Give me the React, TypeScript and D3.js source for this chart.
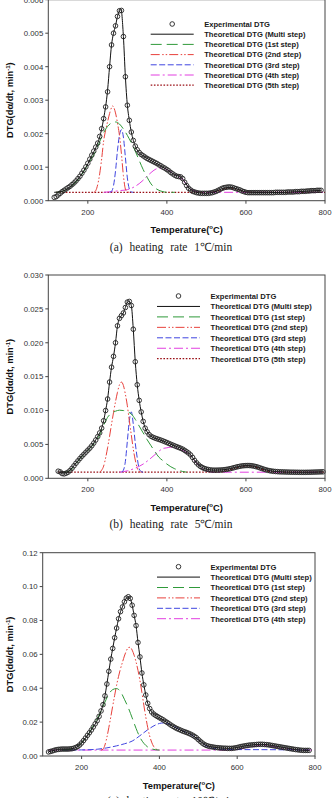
import * as d3 from 'd3';

type Pt = [number, number];

// ---- heating rate 1 °C/min ----
const expA: Pt[] = [
  [115,0.00010],[120,0.00012],[125,0.00017],[130,0.00022],[135,0.00027],[140,0.00031],[145,0.00035],[150,0.00039],
  [155,0.00043],[160,0.00048],[165,0.00053],[170,0.00059],[175,0.00066],[180,0.00073],[185,0.00082],[190,0.00091],
  [195,0.00101],[200,0.00112],[205,0.00124],[210,0.00136],[215,0.00148],[220,0.00160],[225,0.00172],[230,0.00192],
  [235,0.00215],[240,0.00245],[245,0.00280],[250,0.00325],[255,0.00400],[260,0.00465],[265,0.00500],[270,0.00522],
  [275,0.00550],[280,0.00567],[285,0.00568],[290,0.00490],[295,0.00370],[300,0.00285],[305,0.00240],[310,0.00205],
  [315,0.00180],[320,0.00163],[325,0.00152],[330,0.00144],[335,0.00138],[340,0.00134],[345,0.00130],[350,0.00126],
  [355,0.00123],[360,0.00120],[365,0.00117],[370,0.00114],[375,0.00111],[380,0.00107],[385,0.00104],[390,0.00100],
  [395,0.00097],[400,0.00093],[405,0.00089],[410,0.00084],[415,0.00080],[420,0.00076],[425,0.00073],[430,0.00072],
  [435,0.00071],[440,0.00066],[445,0.00055],[450,0.00045],[455,0.00037],[460,0.00032],[465,0.00028],[470,0.00026],
  [475,0.00024],[480,0.00023],[485,0.00022],[490,0.00022],[495,0.00022],[500,0.00022],[505,0.00022],[510,0.00023],
  [515,0.00024],[520,0.00026],[525,0.00028],[530,0.00031],[535,0.00034],[540,0.00037],[545,0.00039],[550,0.00040],
  [555,0.00041],[560,0.00041],[565,0.00040],[570,0.00038],[575,0.00036],[580,0.00034],[585,0.00032],[590,0.00029],
  [595,0.00027],[600,0.00025],[605,0.00024],[610,0.00024],[615,0.00024],[620,0.00024],[625,0.00024],[630,0.00024],
  [635,0.00024],[640,0.00024],[645,0.00024],[650,0.00024],[655,0.00024],[660,0.00024],[665,0.00024],[670,0.00024],
  [675,0.00025],[680,0.00025],[685,0.00025],[690,0.00025],[695,0.00025],[700,0.00025],[705,0.00026],[710,0.00026],
  [715,0.00026],[720,0.00026],[725,0.00027],[730,0.00027],[735,0.00027],[740,0.00028],[745,0.00028],[750,0.00028],
  [755,0.00029],[760,0.00029],[765,0.00030],[770,0.00030],[775,0.00030],[780,0.00031],[785,0.00031],[790,0.00031],
];
const multiA: Pt[] = [
  [115,0.00025],[130,0.00027],[140,0.00030],[150,0.00037],[160,0.00046],[170,0.00058],[180,0.00072],[190,0.00090],
  [200,0.00110],[210,0.00135],[220,0.00158],[230,0.00190],[240,0.00245],[250,0.00330],[255,0.00400],[260,0.00465],
  [265,0.00500],[270,0.00522],[275,0.00550],[280,0.00567],[284,0.00570],[290,0.00490],[295,0.00370],[300,0.00285],
  [305,0.00240],[310,0.00205],[320,0.00163],[330,0.00143],[340,0.00134],[360,0.00120],[380,0.00107],[400,0.00093],
  [420,0.00077],[435,0.00071],[445,0.00056],[460,0.00033],[480,0.00024],[500,0.00022],[520,0.00026],[540,0.00036],
  [560,0.00040],[580,0.00034],[600,0.00026],[650,0.00024],[700,0.00025],[750,0.00028],[790,0.00031],
];
const step1A: Pt[] = [
  [120,0.00025],[130,0.00026],[140,0.00030],[150,0.00036],[160,0.00045],[170,0.00056],[180,0.00070],[190,0.00088],
  [200,0.00108],[210,0.00127],[220,0.00148],[230,0.00176],[240,0.00203],[250,0.00222],[260,0.00232],[270,0.00235],
  [280,0.00229],[290,0.00214],[300,0.00195],[310,0.00173],[320,0.00148],[330,0.00120],[340,0.00093],[350,0.00070],
  [360,0.00050],[370,0.00038],[380,0.00031],[390,0.00027],[400,0.00025],[420,0.00025],
];
const step2A: Pt[] = [
  [215,0.00025],[220,0.00030],[225,0.00048],[230,0.00080],[235,0.00125],[240,0.00178],[245,0.00210],[250,0.00236],
  [255,0.00260],[260,0.00278],[263,0.00283],[265,0.00280],[270,0.00262],[275,0.00232],[280,0.00195],[285,0.00140],
  [290,0.00075],[295,0.00035],[300,0.00026],[305,0.00025],
];
const step3A: Pt[] = [
  [255,0.00025],[260,0.00028],[265,0.00045],[270,0.00088],[275,0.00150],[280,0.00195],[285,0.00212],[290,0.00190],
  [295,0.00130],[300,0.00068],[305,0.00035],[310,0.00026],[315,0.00025],
];
const step4A: Pt[] = [
  [240,0.00025],[260,0.00027],[280,0.00030],[300,0.00033],[310,0.00037],[320,0.00043],[330,0.00051],[340,0.00061],
  [350,0.00073],[360,0.00084],[370,0.00093],[380,0.00097],[390,0.00097],[400,0.00093],[410,0.00086],[420,0.00078],
  [430,0.00072],[440,0.00064],[450,0.00047],[460,0.00035],[470,0.00029],[480,0.00026],[500,0.00025],[800,0.00025],
];
const step5A: Pt[] = [
  [120,0.00025],[500,0.00025],[520,0.00027],[540,0.00033],[560,0.00038],[580,0.00033],[600,0.00026],[620,0.00025],
  [800,0.00025],
];

// ---- heating rate 5 °C/min ----
const expB: Pt[] = [
  [125,0.00105],[130,0.00095],[135,0.00070],[140,0.00065],[145,0.00075],[150,0.00090],[155,0.00115],[160,0.00148],
  [165,0.00185],[170,0.00222],[175,0.00258],[180,0.00292],[185,0.00325],[190,0.00355],[195,0.00385],[200,0.00415],
  [205,0.00445],[210,0.00480],[215,0.00520],[220,0.00565],[225,0.00615],[230,0.00670],[235,0.00740],[240,0.00850],
  [245,0.01000],[250,0.01170],[255,0.01420],[260,0.01640],[265,0.01800],[270,0.02000],[275,0.02250],[280,0.02360],
  [285,0.02400],[290,0.02440],[295,0.02520],[300,0.02600],[305,0.02610],[310,0.02550],[315,0.02200],[320,0.01720],
  [325,0.01380],[330,0.01150],[335,0.00980],[340,0.00840],[345,0.00740],[350,0.00685],[355,0.00645],[360,0.00620],
  [365,0.00605],[370,0.00593],[375,0.00583],[380,0.00573],[385,0.00563],[390,0.00552],[395,0.00540],[400,0.00528],
  [405,0.00515],[410,0.00502],[415,0.00490],[420,0.00478],[425,0.00466],[430,0.00455],[435,0.00443],[440,0.00430],
  [445,0.00412],[450,0.00392],[455,0.00372],[460,0.00345],[465,0.00308],[470,0.00265],[475,0.00228],[480,0.00198],
  [485,0.00175],[490,0.00158],[495,0.00145],[500,0.00136],[505,0.00129],[510,0.00124],[515,0.00121],[520,0.00120],
  [525,0.00120],[530,0.00121],[535,0.00122],[540,0.00124],[545,0.00127],[550,0.00131],[555,0.00136],[560,0.00142],
  [565,0.00149],[570,0.00157],[575,0.00165],[580,0.00172],[585,0.00178],[590,0.00183],[595,0.00186],[600,0.00188],
  [605,0.00189],[610,0.00188],[615,0.00185],[620,0.00180],[625,0.00173],[630,0.00165],[635,0.00155],[640,0.00145],
  [645,0.00135],[650,0.00126],[655,0.00118],[660,0.00112],[665,0.00107],[670,0.00103],[675,0.00100],[680,0.00098],
  [685,0.00096],[690,0.00095],[695,0.00094],[700,0.00093],[705,0.00092],[710,0.00091],[715,0.00090],[720,0.00090],
  [725,0.00089],[730,0.00089],[735,0.00088],[740,0.00088],[745,0.00088],[750,0.00088],[755,0.00089],[760,0.00089],
  [765,0.00090],[770,0.00091],[775,0.00092],[780,0.00093],[785,0.00094],[790,0.00095],[795,0.00096],
];
const multiB: Pt[] = [
  [125,0.00100],[135,0.00080],[145,0.00080],[155,0.00120],[165,0.00190],[175,0.00260],[185,0.00330],[195,0.00390],
  [205,0.00450],[215,0.00520],[225,0.00620],[235,0.00740],[240,0.00850],[245,0.01000],[250,0.01170],[255,0.01420],
  [260,0.01640],[265,0.01800],[270,0.02000],[275,0.02250],[280,0.02360],[285,0.02400],[290,0.02440],[295,0.02520],
  [300,0.02600],[305,0.02610],[310,0.02550],[315,0.02200],[320,0.01720],[325,0.01380],[330,0.01150],[335,0.00980],
  [340,0.00840],[350,0.00685],[360,0.00620],[380,0.00573],[400,0.00528],[420,0.00478],[440,0.00430],[460,0.00345],
  [470,0.00265],[480,0.00198],[490,0.00158],[500,0.00136],[520,0.00120],[540,0.00124],[560,0.00142],[580,0.00172],
  [600,0.00188],[620,0.00180],[640,0.00145],[660,0.00112],[680,0.00098],[720,0.00090],[760,0.00089],[795,0.00096],
];
const step1B: Pt[] = [
  [140,0.00090],[150,0.00100],[160,0.00140],[170,0.00210],[180,0.00290],[190,0.00350],[200,0.00410],[210,0.00470],
  [220,0.00550],[230,0.00640],[240,0.00780],[250,0.00900],[260,0.00960],[270,0.00990],[280,0.01005],[290,0.01000],
  [300,0.00980],[310,0.00950],[320,0.00870],[330,0.00770],[340,0.00670],[350,0.00570],[360,0.00480],[370,0.00390],
  [380,0.00310],[390,0.00260],[400,0.00210],[410,0.00170],[420,0.00140],[430,0.00120],[440,0.00100],[450,0.00090],
];
const step2B: Pt[] = [
  [230,0.00090],[235,0.00120],[240,0.00180],[245,0.00300],[250,0.00450],[255,0.00620],[260,0.00800],[265,0.00970],
  [270,0.01130],[275,0.01270],[280,0.01380],[285,0.01420],[290,0.01370],[295,0.01240],[300,0.01070],[305,0.00850],
  [310,0.00640],[315,0.00430],[320,0.00270],[325,0.00150],[330,0.00100],[335,0.00090],
];
const step3B: Pt[] = [
  [285,0.00090],[290,0.00120],[295,0.00250],[300,0.00550],[305,0.00850],[310,0.00980],[315,0.00800],[320,0.00520],
  [325,0.00300],[330,0.00140],[335,0.00100],[340,0.00090],
];
const step4B: Pt[] = [
  [280,0.00090],[300,0.00110],[320,0.00150],[340,0.00210],[360,0.00300],[370,0.00350],[380,0.00400],[390,0.00440],
  [400,0.00450],[410,0.00460],[420,0.00450],[430,0.00430],[440,0.00410],[450,0.00380],[460,0.00330],[470,0.00260],
  [480,0.00190],[490,0.00140],[500,0.00110],[520,0.00090],[800,0.00090],
];
const step5B: Pt[] = [
  [125,0.00090],[530,0.00090],[550,0.00110],[570,0.00145],[590,0.00175],[605,0.00185],[620,0.00170],[640,0.00135],
  [660,0.00100],[680,0.00090],[800,0.00090],
];

// ---- heating rate 10 °C/min ----
const expC: Pt[] = [
  [115,0.0024],[120,0.0027],[125,0.0030],[130,0.0034],[135,0.0037],[140,0.0039],[145,0.0040],[150,0.0041],
  [155,0.0041],[160,0.0041],[165,0.0041],[170,0.0042],[175,0.0043],[180,0.0046],[185,0.0050],[190,0.0056],
  [195,0.0065],[200,0.0077],[205,0.0091],[210,0.0106],[215,0.0122],[220,0.0137],[225,0.0153],[230,0.0171],
  [235,0.0190],[240,0.0208],[245,0.0234],[250,0.0266],[255,0.0303],[260,0.0355],[265,0.0425],[270,0.0500],
  [275,0.0572],[280,0.0635],[285,0.0698],[290,0.0755],[295,0.0810],[300,0.0852],[305,0.0880],[310,0.0910],
  [315,0.0932],[320,0.0940],[325,0.0930],[330,0.0890],[335,0.0830],[340,0.0770],[345,0.0670],[350,0.0585],
  [355,0.0490],[360,0.0420],[365,0.0360],[370,0.0311],[375,0.0280],[380,0.0260],[385,0.0248],[390,0.0240],
  [395,0.0233],[400,0.0226],[405,0.0220],[410,0.0213],[415,0.0205],[420,0.0198],[425,0.0190],[430,0.0182],
  [435,0.0175],[440,0.0168],[445,0.0162],[450,0.0157],[455,0.0152],[460,0.0147],[465,0.0143],[470,0.0139],
  [475,0.0134],[480,0.0129],[485,0.0123],[490,0.0116],[495,0.0108],[500,0.0097],[505,0.0087],[510,0.0077],
  [515,0.0069],[520,0.0063],[525,0.0059],[530,0.0056],[535,0.0054],[540,0.0052],[545,0.0050],[550,0.0049],
  [555,0.0048],[560,0.0047],[565,0.0046],[570,0.0046],[575,0.0045],[580,0.0045],[585,0.0045],[590,0.0046],
  [595,0.0048],[600,0.0050],[605,0.0053],[610,0.0056],[615,0.0058],[620,0.0060],[625,0.0062],[630,0.0064],
  [635,0.0065],[640,0.0066],[645,0.0067],[650,0.0068],[655,0.0069],[660,0.0069],[665,0.0069],[670,0.0068],
  [675,0.0067],[680,0.0066],[685,0.0064],[690,0.0062],[695,0.0060],[700,0.0058],[705,0.0056],[710,0.0054],
  [715,0.0052],[720,0.0050],[725,0.0048],[730,0.0046],[735,0.0044],[740,0.0042],[745,0.0040],[750,0.0038],
  [755,0.0037],[760,0.0035],[765,0.0034],[770,0.0033],[775,0.0033],[780,0.0033],[785,0.0033],
];
const multiC: Pt[] = [
  [115,0.0025],[130,0.0034],[145,0.0040],[165,0.0041],[180,0.0046],[190,0.0056],[200,0.0077],[210,0.0106],
  [220,0.0137],[230,0.0171],[240,0.0208],[250,0.0266],[255,0.0303],[260,0.0355],[265,0.0425],[270,0.0500],
  [275,0.0572],[280,0.0635],[285,0.0698],[290,0.0755],[295,0.0810],[300,0.0852],[305,0.0880],[310,0.0910],
  [315,0.0932],[320,0.0940],[325,0.0930],[330,0.0890],[335,0.0830],[340,0.0770],[345,0.0670],[350,0.0585],
  [355,0.0490],[360,0.0420],[365,0.0360],[370,0.0311],[380,0.0260],[390,0.0240],[400,0.0226],[420,0.0198],
  [440,0.0168],[460,0.0147],[480,0.0129],[500,0.0097],[520,0.0063],[540,0.0052],[560,0.0047],[580,0.0045],
  [600,0.0050],[620,0.0060],[640,0.0066],[660,0.0069],[680,0.0066],[700,0.0058],[720,0.0050],[740,0.0042],
  [760,0.0035],[785,0.0033],
];
const step1C: Pt[] = [
  [150,0.0035],[170,0.0038],[180,0.0044],[190,0.0056],[200,0.0077],[210,0.0106],[220,0.0137],[230,0.0180],
  [240,0.0220],[250,0.0265],[260,0.0318],[270,0.0365],[280,0.0392],[290,0.0398],[300,0.0380],[310,0.0335],
  [320,0.0285],[330,0.0225],[340,0.0163],[350,0.0110],[360,0.0075],[370,0.0053],[380,0.0042],[390,0.0037],
  [400,0.0035],
];
const step2C: Pt[] = [
  [250,0.0035],[255,0.0040],[260,0.0065],[265,0.0110],[270,0.0168],[275,0.0230],[280,0.0295],[285,0.0358],
  [290,0.0418],[295,0.0470],[300,0.0515],[305,0.0553],[310,0.0590],[315,0.0620],[320,0.0640],[325,0.0642],
  [330,0.0625],[335,0.0595],[340,0.0555],[345,0.0505],[350,0.0445],[355,0.0375],[360,0.0300],[365,0.0230],
  [370,0.0168],[375,0.0118],[380,0.0082],[385,0.0057],[390,0.0043],[395,0.0037],[400,0.0035],
];
const step3C: Pt[] = [
  [150,0.0035],[200,0.0036],[240,0.0040],[265,0.0048],[290,0.0060],[310,0.0072],[330,0.0088],[350,0.0120],
  [370,0.0155],[390,0.0183],[400,0.0192],[410,0.0195],[420,0.0192],[430,0.0182],[440,0.0170],[460,0.0148],
  [480,0.0128],[500,0.0097],[510,0.0077],[520,0.0060],[530,0.0050],[540,0.0044],[560,0.0040],[600,0.0038],
  [700,0.0037],[785,0.0035],
];
const step4C: Pt[] = [
  [115,0.0035],[580,0.0035],[600,0.0038],[620,0.0045],[640,0.0055],[660,0.0062],[680,0.0060],[700,0.0052],
  [720,0.0045],[740,0.0039],[760,0.0036],[800,0.0035],
];

const tempTicks = [200, 400, 600, 800];
const legendLabels = [
  'Experimental DTG',
  'Theoretical DTG (Multi step)',
  'Theoretical DTG (1st step)',
  'Theoretical DTG (2nd step)',
  'Theoretical DTG (3rd step)',
  'Theoretical DTG (4th step)',
  'Theoretical DTG (5th step)',
];

// line styles, in legend order after the experimental points
const lineStyles = [
  { color: '#111111', dash: '', width: 1 },
  { color: '#2f9a3a', dash: '11,5', width: 1 },
  { color: '#e8413c', dash: '9,2.5,1.5,2,1.5,2', width: 1 },
  { color: '#3f45e0', dash: '6,2.5', width: 1 },
  { color: '#e23fe0', dash: '9,3,2,3', width: 1 },
  { color: '#9a0f16', dash: '1.6,1.6', width: 1.3 },
];

const SANS = "'Liberation Sans', Arial, sans-serif";

interface PanelProps {
  left: number; right: number; top: number; bottom: number;
  yMax: number; yDigits: number;
  exp: Pt[]; curves: Pt[][];
  legendX: number; legendY: number; legendGap: number;
  caption: string; captionY: number;
}

function Panel(p: PanelProps) {
  const x = d3.scaleLinear().domain([100, 800]).range([p.left, p.right]);
  const y = d3.scaleLinear().domain([0, p.yMax]).range([p.bottom, p.top]);
  const line = d3.line<Pt>().x(d => x(d[0])).y(d => y(d[1])).curve(d3.curveMonotoneX);
  const fmt = d3.format(`.${p.yDigits}f`);
  const midX = (p.left + p.right) / 2;
  const midY = (p.top + p.bottom) / 2;
  const nRows = p.curves.length + 1;

  return (
    <g>
      {/* components first, multi step on top of them */}
      {p.curves.map((c, i) => ({ c, i })).reverse().map(({ c, i }) => (
        <path key={i} d={line(c) ?? ''} fill="none" stroke={lineStyles[i].color}
          strokeWidth={lineStyles[i].width} strokeDasharray={lineStyles[i].dash || undefined} />
      ))}
      {p.exp.map((d, i) => (
        <circle key={i} cx={x(d[0])} cy={y(d[1])} r={2.3} fill="none" stroke="#222" strokeWidth={0.9} />
      ))}

      {/* frame */}
      <rect x={p.left} y={p.top} width={p.right - p.left} height={p.bottom - p.top}
        fill="none" stroke="#444" strokeWidth={1} />

      {/* y axis */}
      {y.ticks(6).map(t => (
        <g key={t}>
          <line x1={p.left - 3} x2={p.left} y1={y(t)} y2={y(t)} stroke="#444" />
          <text x={p.left - 5} y={y(t) + 2.8} textAnchor="end" fontSize={7.8} fill="#333"
            fontFamily={SANS}>{fmt(t)}</text>
        </g>
      ))}
      <text transform={`translate(13.3,${midY}) rotate(-90)`} textAnchor="middle" fontSize={9.3}
        fontWeight="bold" fill="#111" fontFamily={SANS}>
        DTG(d<tspan>α</tspan>/dt, min<tspan dy={-3.5} fontSize={6}>-1</tspan><tspan dy={3.5}>)</tspan>
      </text>

      {/* x axis */}
      {tempTicks.map(t => (
        <g key={t}>
          <line x1={x(t)} x2={x(t)} y1={p.bottom} y2={p.bottom + 3} stroke="#444" />
          <text x={x(t)} y={p.bottom + 14} textAnchor="middle" fontSize={7.8} fill="#333"
            fontFamily={SANS}>{t}</text>
        </g>
      ))}
      <text x={midX} y={p.bottom + 32.5} textAnchor="middle" fontSize={9.3} fontWeight="bold"
        fill="#111" fontFamily={SANS}>
        Temperature(<tspan dy={-4} fontSize={6}>o</tspan><tspan dy={4}>C)</tspan>
      </text>

      {/* legend */}
      {d3.range(nRows).map(i => {
        const ly = p.legendY + i * p.legendGap;
        const s = lineStyles[i - 1];
        return (
          <g key={i}>
            {i === 0 ? (
              <circle cx={p.legendX + 21.5} cy={ly} r={2.3} fill="none" stroke="#222" strokeWidth={0.9} />
            ) : (
              <line x1={p.legendX} x2={p.legendX + 43} y1={ly} y2={ly} stroke={s.color}
                strokeWidth={s.width} strokeDasharray={s.dash || undefined} />
            )}
            <text x={p.legendX + 53.5} y={ly + 2.8} fontSize={7.6} fontWeight="bold" fill="#1a1a1a"
              fontFamily={SANS}>{legendLabels[i]}</text>
          </g>
        );
      })}

      <text x={171} y={p.captionY} textAnchor="middle" fontSize={11.5} wordSpacing={4}
        fontFamily="'Liberation Serif', 'Times New Roman', serif" fill="#222">{p.caption}</text>
    </g>
  );
}

export default function App() {
  return (
    <svg width={333} height={798} style={{ position: 'absolute', left: 0, top: 0, background: '#fff' }}>
      <rect width={333} height={798} fill="#fff" />
      <Panel left={48.3} right={325} top={-0.3} bottom={200.7} yMax={0.006} yDigits={3}
        exp={expA} curves={[multiA, step1A, step2A, step3A, step4A, step5A]}
        legendX={150.7} legendY={24} legendGap={10.2}
        caption="(a) heating rate 1℃/min" captionY={251} />
      <Panel left={48.3} right={325} top={275} bottom={478.3} yMax={0.03} yDigits={3}
        exp={expB} curves={[multiB, step1B, step2B, step3B, step4B, step5B]}
        legendX={157} legendY={296} legendGap={10.45}
        caption="(b) heating rate 5℃/min" captionY={527.5} />
      <Panel left={42.7} right={315} top={552.7} bottom={756} yMax={0.12} yDigits={2}
        exp={expC} curves={[multiC, step1C, step2C, step3C, step4C]}
        legendX={157} legendY={566.7} legendGap={10.4}
        caption="(c) heating rate 10℃/min" captionY={805} />
    </svg>
  );
}
